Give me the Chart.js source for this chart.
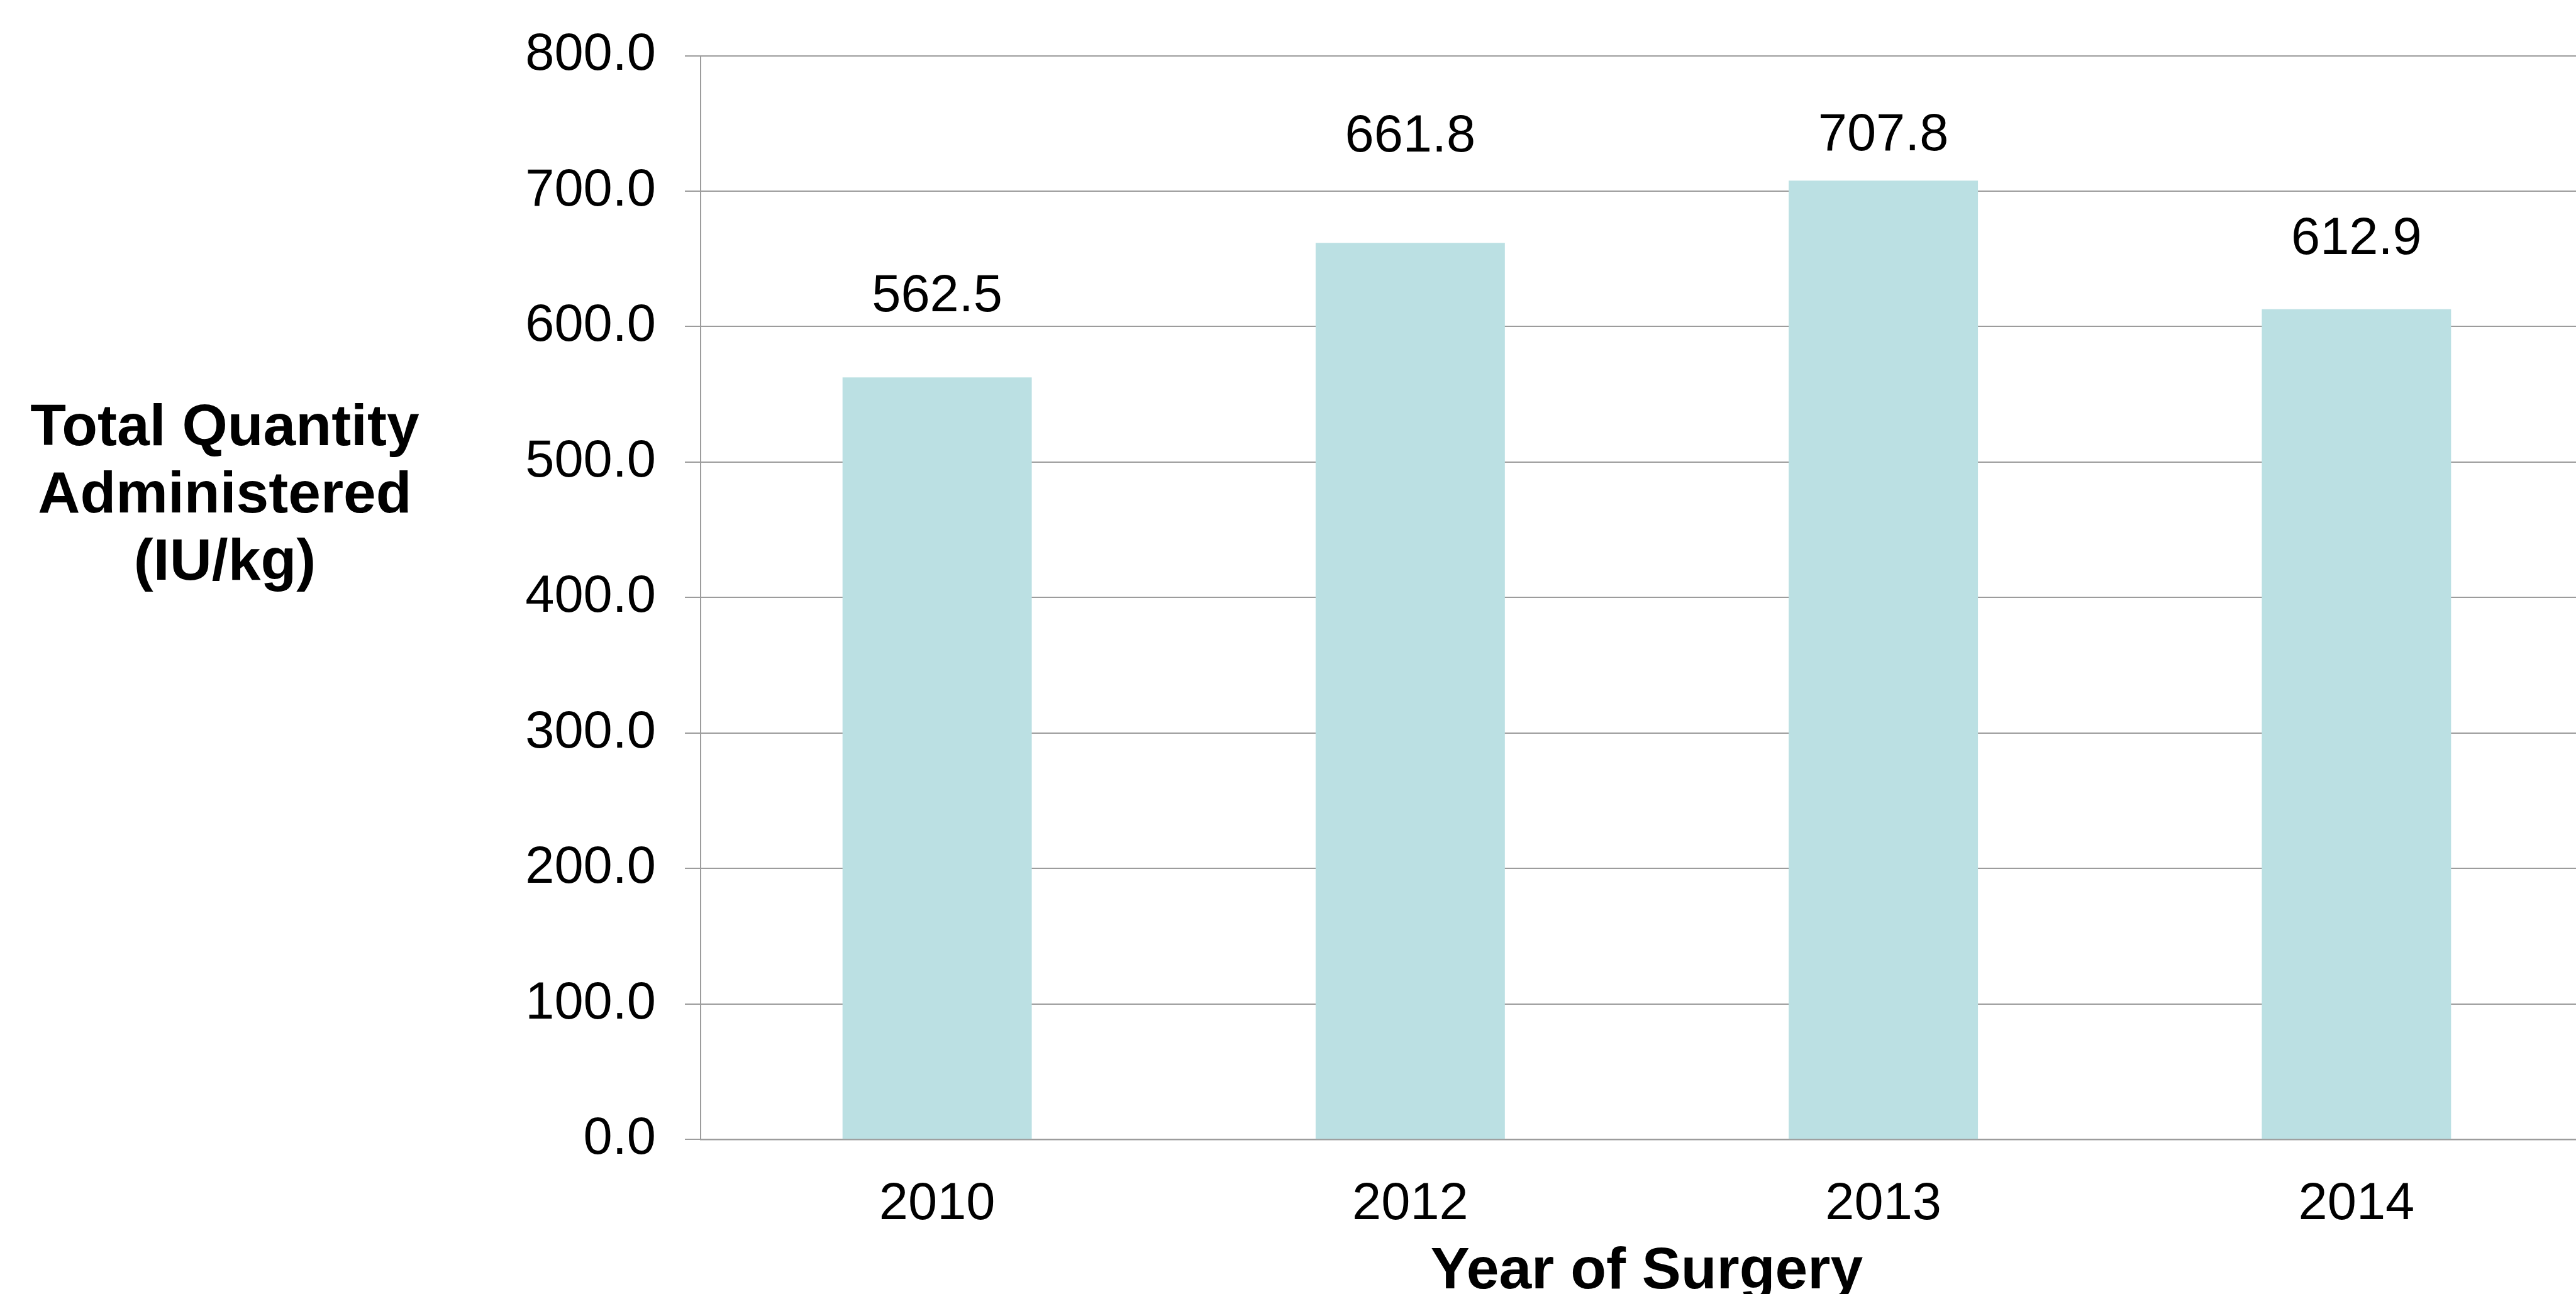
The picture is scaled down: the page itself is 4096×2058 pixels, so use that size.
<!DOCTYPE html>
<html>
<head>
<meta charset="utf-8">
<script src="https://cdn.jsdelivr.net/npm/chart.js@4/dist/chart.umd.min.js"></script>
<style>
  html, body { margin: 0; padding: 0; background: #ffffff; overflow: hidden; }
  #wrap { width: 4123px; height: 2100px; }
</style>
</head>
<body>
<div id="wrap"><canvas id="c" width="4123" height="2100"></canvas></div>
<script>
// ---- data ----
const categories = ['2010', '2012', '2013', '2014'];
const values = [562.5, 661.8, 707.8, 612.9];
const yTitleLines = ['Total Quantity', 'Administered', '(IU/kg)'];
const xTitle = 'Year of Surgery';
const yMin = 0, yMax = 800, yStep = 100;

// ---- layout / style ----
const FONT = '"Liberation Sans", Arial, Helvetica, sans-serif';
const PLOT_LEFT = 1114;
const PLOT_TOP = 88.5;
const PLOT_BOTTOM = 1812.3;
const CANVAS_H = 2100;
const GRID = '#9c9c9c';

const valueLabels = {
  id: 'valueLabels',
  afterDatasetsDraw(chart, args, opts) {
    const ctx = chart.ctx;
    const meta = chart.getDatasetMeta(0);
    const ys = chart.scales.y;
    ctx.save();
    ctx.font = '83px ' + FONT;
    ctx.fillStyle = '#000';
    ctx.textAlign = 'center';
    ctx.textBaseline = 'middle';
    meta.data.forEach((bar, i) => {
      const v = chart.data.datasets[0].data[i];
      const y = ys.getPixelForValue(opts.anchors[i]);
      ctx.fillText(v.toFixed(1), bar.x, y);
    });
    ctx.restore();
  }
};

const yTitlePlugin = {
  id: 'yTitleBlock',
  afterDraw(chart, args, opts) {
    const ctx = chart.ctx;
    ctx.save();
    ctx.font = 'bold 93px ' + FONT;
    ctx.fillStyle = '#000';
    ctx.textAlign = 'center';
    ctx.textBaseline = 'middle';
    yTitleLines.forEach((t, i) => {
      ctx.fillText(t, opts.x, opts.y0 + i * opts.lineGap);
    });
    ctx.restore();
  }
};

new Chart(document.getElementById('c'), {
  type: 'bar',
  data: {
    labels: categories,
    datasets: [{
      data: values,
      backgroundColor: '#bbe0e3',
      borderWidth: 0,
      categoryPercentage: 1.0,
      barPercentage: 0.4
    }]
  },
  options: {
    responsive: false,
    animation: false,
    events: [],
    layout: { padding: { top: PLOT_TOP, left: 0, right: 0, bottom: 0 } },
    plugins: {
      legend: { display: false },
      tooltip: { enabled: false },
      title: { display: false },
      valueLabels: { anchors: [622, 740, 741, 664] },
      yTitleBlock: { x: 357.5, y0: 682, lineGap: 107 }
    },
    scales: {
      x: {
        offset: true,
        grid: { display: false, drawTicks: false, tickLength: 0 },
        border: { display: true, color: GRID, width: 2.5 },
        ticks: {
          color: '#000',
          font: { family: FONT, size: 83, lineHeight: 1.2 },
          padding: 54,
          maxRotation: 0,
          autoSkip: false
        },
        title: {
          display: true,
          text: xTitle,
          color: '#000',
          font: { family: FONT, size: 93, weight: 'bold', lineHeight: 1.2 },
          padding: { top: 0, bottom: CANVAS_H - 2023 - 55.8 }
        },
        afterFit(scale) {
          scale.height = CANVAS_H - PLOT_BOTTOM;
          scale.paddingLeft = 0; scale.paddingRight = 0;
        }
      },
      y: {
        min: yMin,
        max: yMax,
        grid: { color: GRID, lineWidth: 2, drawTicks: true, tickLength: 25, tickColor: GRID },
        border: { display: true, color: GRID, width: 2 },
        ticks: {
          stepSize: yStep,
          color: '#000',
          font: { family: FONT, size: 83, lineHeight: 1.2 },
          padding: 46,
          callback: (v) => Number(v).toFixed(1)
        },
        afterFit(scale) {
          scale.width = PLOT_LEFT;
          scale.paddingTop = 0; scale.paddingBottom = 0;
        }
      }
    }
  },
  plugins: [valueLabels, yTitlePlugin]
});
</script>
</body>
</html>
